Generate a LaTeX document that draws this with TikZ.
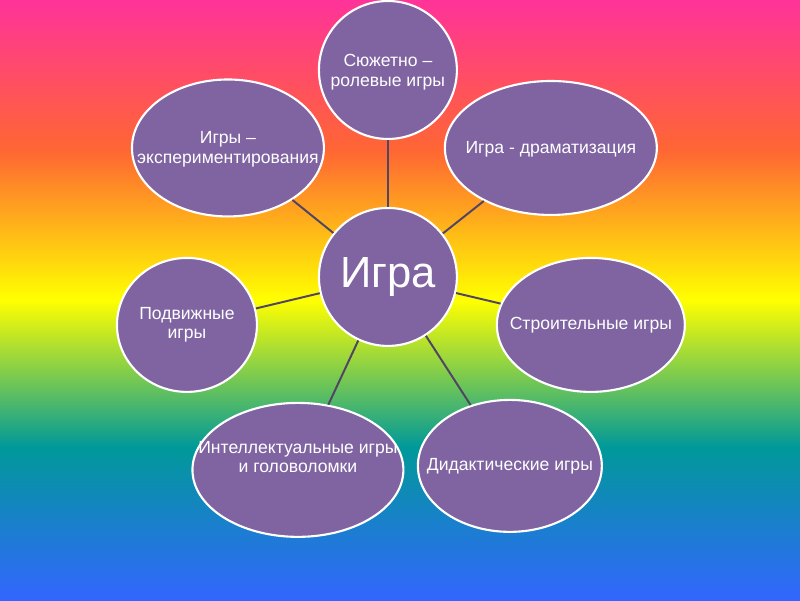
\documentclass[tikz,border=0pt]{standalone}
\usepackage{fontspec}
\setmainfont{Liberation Sans}
\usetikzlibrary{shapes.geometric}

\definecolor{bgmagenta}{HTML}{FF3399}
\definecolor{bgorange}{HTML}{FF6633}
\definecolor{bgyellow}{HTML}{FFFF00}
\definecolor{bgteal}{HTML}{009999}
\definecolor{bgblue}{HTML}{3366FF}
\definecolor{bubblefill}{HTML}{8064A2}
\definecolor{linkcolor}{HTML}{504664}

% path is mapped onto the 25bp--75bp middle of the shading
\pgfdeclareverticalshading{rainbow}{100bp}{color(0bp)=(bgblue); color(25bp)=(bgblue); color(37.75bp)=(bgteal); color(50bp)=(bgyellow); color(62.5bp)=(bgorange); color(75bp)=(bgmagenta); color(100bp)=(bgmagenta)}

\begin{document}
\begin{tikzpicture}[x=0.025cm, y=-0.025cm,
  bubble/.style={ellipse, draw=white, line width=1.5pt, fill=bubblefill, inner sep=0pt},
  caption/.style={text=white, align=center, font=\fontsize{12.5}{14}\selectfont},
  link/.style={draw=linkcolor, line width=1.4pt}]

% --- Background ---
\useasboundingbox (0cm,0cm) rectangle (20cm,-15cm);
\shade[shading=rainbow] (0cm,0cm) rectangle (20cm,-15cm);

% --- Center ---
\node[bubble, circle, minimum size=138*0.025cm, text=white, font=\fontsize{31}{36}\selectfont] (game) at (388,277) {Игра};

% --- Outer bubbles: name/x/y/width/height/text y/text ---
\foreach \nm/\cx/\cy/\w/\h/\ty/\txt in {
    plot/388/70/138/138/72/{Сюжетно –\\ролевые игры},
    drama/551/148/212/134/149/{Игра - драматизация},
    exper/228/148/192/137/149/{Игры –\\экспериментирования},
    mobile/187/325/140/134/325/{Подвижные\\игры},
    build/591/325/188/134/325/{Строительные игры},
    intel/298/470/211/134/457/{Интеллектуальные игры\\и головоломки},
    didact/510/466/184/132/466/{Дидактические игры}} {
  \node[bubble, minimum width=\w*0.025cm, minimum height=\h*0.025cm] (\nm) at (\cx,\cy) {};
  \node[caption] (\nm-txt) at (\cx,\ty) {\txt};
}

% --- Connectors ---
\foreach \nm in {plot, drama, exper, mobile, build, intel, didact}
  \draw[link] (game) -- (\nm);

\end{tikzpicture}
\end{document}
